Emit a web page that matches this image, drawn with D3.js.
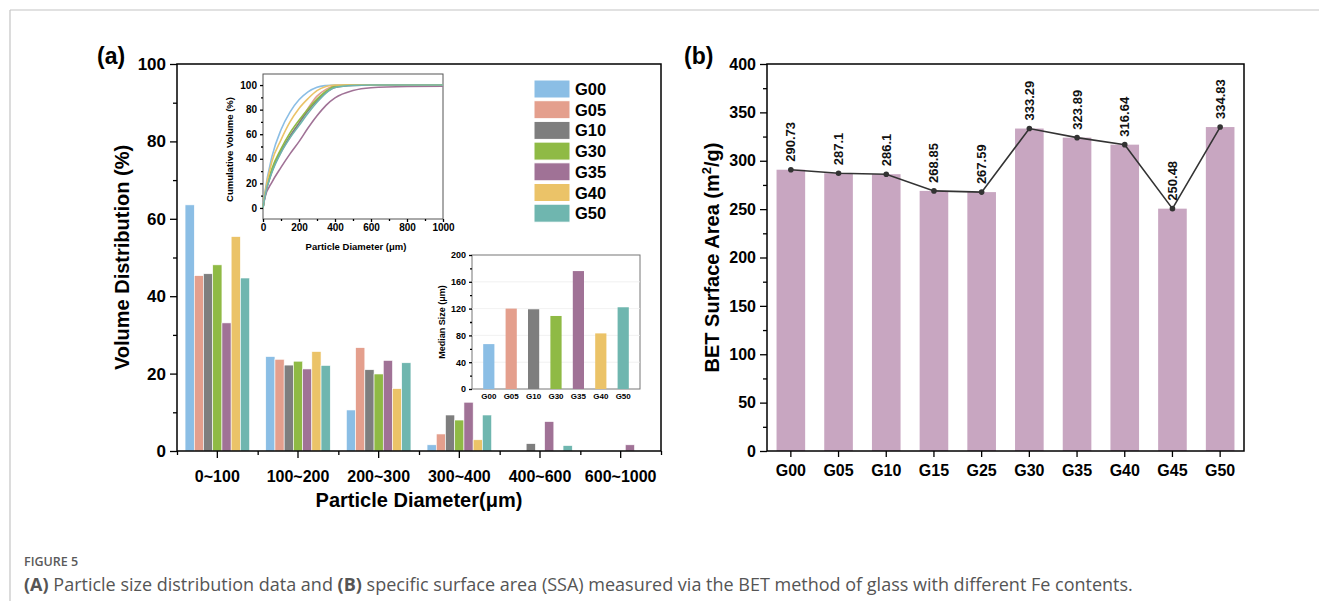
<!DOCTYPE html>
<html>
<head>
<meta charset="utf-8">
<script src="https://cdn.jsdelivr.net/npm/d3@7"></script>
<style>
body { margin: 0; background: #fff; }
svg text { font-family: "Liberation Sans", Arial, sans-serif; }
</style>
</head>
<body>
<script>
// data
var sizeBins = ["0~100", "100~200", "200~300", "300~400", "400~600", "600~1000"]
var seriesNames = ["G00", "G05", "G10", "G30", "G35", "G40", "G50"]
var seriesColors = ["#8bbee5", "#e49f8d", "#7e7e7e", "#8fba45", "#a07296", "#ebc368", "#6fb6af"]
var volG00 = [63.6, 24.4, 10.6, 1.6, 0, 0]
var volG05 = [45.3, 23.7, 26.7, 4.4, 0, 0]
var volG10 = [45.8, 22.2, 21.0, 9.3, 1.9, 0]
var volG30 = [48.1, 23.2, 19.9, 8.0, 0, 0]
var volG35 = [33.1, 21.2, 23.4, 12.6, 7.6, 1.6]
var volG40 = [55.4, 25.7, 16.1, 2.9, 0, 0]
var volG50 = [44.7, 22.1, 22.8, 9.3, 1.4, 0]
var volumes = [volG00, volG05, volG10, volG30, volG35, volG40, volG50]

// cumulative curves (inset)
var cumX = [0, 10, 50, 100, 150, 200, 250, 300, 350, 400, 500, 600, 800, 1000]
var cumG00 = [0, 12, 42, 63.6, 78, 88, 94.5, 98.3, 99.6, 100, 100, 100, 100, 100]
var cumG05 = [0, 9, 30, 45.3, 57.5, 69, 81, 91, 96.5, 99.5, 100, 100, 100, 100]
var cumG10 = [0, 9, 30, 46, 58.5, 69, 79, 87.5, 94, 98, 99.7, 100, 100, 100]
var cumG30 = [0, 10, 32, 48, 61, 71.3, 80.5, 88.5, 95, 99, 100, 100, 100, 100]
var cumG35 = [0, 8, 21, 33, 44, 54, 65, 75, 83.5, 89.5, 95.5, 97.8, 98.8, 99]
var cumG40 = [0, 11, 38, 55.4, 70, 81, 89, 95.5, 98.8, 100, 100, 100, 100, 100]
var cumG50 = [0, 9, 29, 45, 57, 67, 77, 86, 93.5, 98, 99.7, 100, 100, 100]
var cumulative = [cumG00, cumG05, cumG10, cumG30, cumG35, cumG40, cumG50]

// median size (inset)
var medianSize = [67, 120, 119, 109, 176, 83, 122]

// BET
var betSamples = ["G00", "G05", "G10", "G15", "G25", "G30", "G35", "G40", "G45", "G50"]
var betValues = [290.73, 287.1, 286.1, 268.85, 267.59, 333.29, 323.89, 316.64, 250.48, 334.83]

var svg = d3.select("body").append("svg")
  .attr("width", 1319)
  .attr("height", 601)

// page frame
svg.append("line").attr("x1", 10).attr("y1", 10).attr("x2", 1319).attr("y2", 10)
  .style("stroke", "#c4c4c4").style("stroke-width", 1.2)
svg.append("line").attr("x1", 10).attr("y1", 10).attr("x2", 10).attr("y2", 601)
  .style("stroke", "#c4c4c4").style("stroke-width", 1.2)

function styleAxis(g, fs) {
  g.selectAll(".domain").remove()
  g.selectAll("line").style("stroke", "#000").style("stroke-width", 1.3)
  g.selectAll("text").style("font-size", fs + "px").style("font-weight", "bold").style("fill", "#000")
}

// ---------- panel (a) ----------
var aL = 177, aR = 661, aT = 64, aB = 451
var xA = d3.scaleBand().domain(sizeBins).range([aL, aR]).paddingInner(0.2).paddingOuter(0.1)
var xSub = d3.scaleBand().domain(seriesNames).range([0, xA.bandwidth()])
var yA = d3.scaleLinear().domain([0, 100]).range([aB, aT])
var binEdge = d3.scaleLinear().domain([0, sizeBins.length]).range([aL, aR])

var groups = svg.append("g").selectAll("g")
  .data(volumes)
  .enter()
  .append("g")
  .style("fill", function(d, i) { return seriesColors[i] })
groups.selectAll("rect")
  .data(function(d, i) { return d.map(function(v, j) { return { v: v, bin: sizeBins[j], s: seriesNames[i] } }) })
  .enter()
  .filter(function(d) { return d.v > 0 })
  .append("rect")
  .attr("x", function(d) { return xA(d.bin) + xSub(d.s) })
  .attr("width", xSub.bandwidth())
  .attr("y", function(d) { return yA(d.v) })
  .attr("height", function(d) { return aB - yA(d.v) })
  .style("stroke", "#fff").style("stroke-width", 0.6)

var gyA = svg.append("g").attr("transform", "translate(" + aL + ",0)")
  .call(d3.axisLeft(yA).tickValues([0, 20, 40, 60, 80, 100]).tickSize(7).tickPadding(4))
styleAxis(gyA, 17)
var gyAm = svg.append("g").attr("transform", "translate(" + aL + ",0)")
  .call(d3.axisLeft(yA).tickValues([10, 30, 50, 70, 90]).tickSize(4).tickFormat(""))
styleAxis(gyAm, 17)
var gxA = svg.append("g").attr("transform", "translate(0," + aB + ")")
  .call(d3.axisBottom(xA).tickSize(7).tickPadding(13))
styleAxis(gxA, 16)
var gxAm = svg.append("g").attr("transform", "translate(0," + aB + ")")
  .call(d3.axisBottom(binEdge).ticks(6).tickSize(4).tickFormat(""))
styleAxis(gxAm, 16)
svg.append("rect").attr("x", aL).attr("y", aT).attr("width", aR - aL).attr("height", aB - aT)
  .style("fill", "none").style("stroke", "#000").style("stroke-width", 1.5)

svg.append("text").attr("x", 97).attr("y", 64).text("(a)")
  .style("font-size", "23px").style("font-weight", "bold")
svg.append("text").attr("transform", "translate(129," + ((aT + aB) / 2) + ") rotate(-90)")
  .attr("text-anchor", "middle").text("Volume Distribution (%)")
  .style("font-size", "20px").style("font-weight", "bold")
svg.append("text").attr("x", (aL + aR) / 2).attr("y", 507).attr("text-anchor", "middle")
  .text("Particle Diameter(\u03bcm)")
  .style("font-size", "20px").style("font-weight", "bold")

// legend
var legend = svg.append("g").selectAll("g")
  .data(seriesNames)
  .enter()
  .append("g")
  .attr("transform", function(d, i) { return "translate(534," + (80 + i * 20.7) + ")" })
legend.append("rect").attr("width", 36).attr("height", 18)
  .style("fill", function(d, i) { return seriesColors[i] }).style("stroke", "#fff")
legend.append("text").attr("x", 41).attr("y", 15).text(function(d) { return d })
  .style("font-size", "16.5px").style("font-weight", "bold")

// inset: cumulative volume
var iL = 263, iR = 443, iT = 74, iB = 219
var xI = d3.scaleLinear().domain([0, 1000]).range([iL, iR])
var yI = d3.scaleLinear().domain([-9, 109]).range([iB, iT])
svg.append("rect").attr("x", iL).attr("y", iT).attr("width", iR - iL).attr("height", iB - iT)
  .style("fill", "#fff").style("stroke", "#555").style("stroke-width", 1)
var cumLine = d3.line()
  .x(function(d, i) { return xI(cumX[i]) })
  .y(function(d) { return yI(d) })
  .curve(d3.curveMonotoneX)
svg.append("g").selectAll("path")
  .data(cumulative)
  .enter()
  .append("path")
  .attr("d", cumLine)
  .style("fill", "none")
  .style("stroke", function(d, i) { return seriesColors[i] })
  .style("stroke-width", 1.6)
var gyI = svg.append("g").attr("transform", "translate(" + iL + ",0)")
  .call(d3.axisLeft(yI).tickValues([0, 20, 40, 60, 80, 100]).tickSize(3).tickPadding(3))
styleAxis(gyI, 10)
var gyIm = svg.append("g").attr("transform", "translate(" + iL + ",0)")
  .call(d3.axisLeft(yI).tickValues([10, 30, 50, 70, 90]).tickSize(2).tickFormat(""))
styleAxis(gyIm, 9)
var gxI = svg.append("g").attr("transform", "translate(0," + iB + ")")
  .call(d3.axisBottom(xI).tickValues([0, 200, 400, 600, 800, 1000]).tickFormat(d3.format("d")).tickSize(3).tickPadding(2))
styleAxis(gxI, 10)
var gxIm = svg.append("g").attr("transform", "translate(0," + iB + ")")
  .call(d3.axisBottom(xI).tickValues([100, 300, 500, 700, 900]).tickSize(2).tickFormat(""))
styleAxis(gxIm, 9)
svg.append("text").attr("transform", "translate(233," + ((iT + iB) / 2 + 3) + ") rotate(-90)")
  .attr("text-anchor", "middle").text("Cumulative Volume (%)")
  .style("font-size", "9.5px").style("font-weight", "bold")
svg.append("text").attr("x", (iL + iR) / 2 + 3).attr("y", 250).attr("text-anchor", "middle")
  .text("Particle Diameter (\u03bcm)")
  .style("font-size", "9.5px").style("font-weight", "bold")

// inset: median size
var mL = 472, mR = 640, mT = 255, mB = 389
var xM = d3.scaleBand().domain(seriesNames).range([mL, mR]).padding(0.5)
var yM = d3.scaleLinear().domain([0, 200]).range([mB, mT])
svg.append("rect").attr("x", mL).attr("y", mT).attr("width", mR - mL).attr("height", mB - mT)
  .style("fill", "#fff").style("stroke", "#777").style("stroke-width", 1)
svg.append("g").selectAll("line")
  .data([40, 80, 120, 160])
  .enter()
  .append("line")
  .attr("x1", mL).attr("x2", mR)
  .attr("y1", function(d) { return yM(d) }).attr("y2", function(d) { return yM(d) })
  .style("stroke", "#eee").style("stroke-width", 0.8)
svg.append("g").selectAll("rect")
  .data(medianSize)
  .enter()
  .append("rect")
  .attr("x", function(d, i) { return xM(seriesNames[i]) })
  .attr("width", xM.bandwidth())
  .attr("y", function(d) { return yM(d) })
  .attr("height", function(d) { return mB - yM(d) })
  .style("fill", function(d, i) { return seriesColors[i] })
var gyM = svg.append("g").attr("transform", "translate(" + mL + ",0)")
  .call(d3.axisLeft(yM).tickValues([0, 40, 80, 120, 160, 200]).tickSize(3).tickPadding(3))
styleAxis(gyM, 9)
var gyMm = svg.append("g").attr("transform", "translate(" + mL + ",0)")
  .call(d3.axisLeft(yM).tickValues([20, 60, 100, 140, 180]).tickSize(2).tickFormat(""))
styleAxis(gyMm, 8)
var gxM = svg.append("g").attr("transform", "translate(0," + mB + ")")
  .call(d3.axisBottom(xM).tickSize(0).tickPadding(4))
styleAxis(gxM, 8)
svg.append("text").attr("transform", "translate(445," + ((mT + mB) / 2) + ") rotate(-90)")
  .attr("text-anchor", "middle").text("Median Size (\u03bcm)")
  .style("font-size", "9px").style("font-weight", "bold")

// ---------- panel (b) ----------
var bL = 767, bR = 1244, bT = 64, bB = 451
var xB = d3.scaleBand().domain(betSamples).range([bL, bR]).paddingInner(0.4).paddingOuter(0.2)
var yB = d3.scaleLinear().domain([0, 400]).range([bB, bT])

svg.append("g").selectAll("rect")
  .data(betValues)
  .enter()
  .append("rect")
  .attr("x", function(d, i) { return xB(betSamples[i]) })
  .attr("width", xB.bandwidth())
  .attr("y", function(d) { return yB(d) })
  .attr("height", function(d) { return bB - yB(d) })
  .style("fill", "#c8a6c1")

var betLine = d3.line()
  .x(function(d, i) { return xB(betSamples[i]) + xB.bandwidth() / 2 })
  .y(function(d) { return yB(d) })
svg.append("path").datum(betValues).attr("d", betLine)
  .style("fill", "none").style("stroke", "#333").style("stroke-width", 1.6)
svg.append("g").selectAll("circle")
  .data(betValues)
  .enter()
  .append("circle")
  .attr("cx", function(d, i) { return xB(betSamples[i]) + xB.bandwidth() / 2 })
  .attr("cy", function(d) { return yB(d) })
  .attr("r", 2.8)
  .style("fill", "#333")
svg.append("g").selectAll("text")
  .data(betValues)
  .enter()
  .append("text")
  .attr("transform", function(d, i) {
    return "translate(" + (xB(betSamples[i]) + xB.bandwidth() / 2 + 4.5) + "," + (yB(d) - 8) + ") rotate(-90)"
  })
  .text(function(d) { return d })
  .style("font-size", "13px").style("font-weight", "600").style("fill", "#111")

var gyB = svg.append("g").attr("transform", "translate(" + bL + ",0)")
  .call(d3.axisLeft(yB).tickValues(d3.range(0, 401, 50)).tickSize(7).tickPadding(4))
styleAxis(gyB, 16)
var gyBm = svg.append("g").attr("transform", "translate(" + bL + ",0)")
  .call(d3.axisLeft(yB).tickValues(d3.range(25, 400, 50)).tickSize(4).tickFormat(""))
styleAxis(gyBm, 16)
var gxB = svg.append("g").attr("transform", "translate(0," + bB + ")")
  .call(d3.axisBottom(xB).tickSize(6).tickPadding(8))
styleAxis(gxB, 16)
svg.append("rect").attr("x", bL).attr("y", bT).attr("width", bR - bL).attr("height", bB - bT)
  .style("fill", "none").style("stroke", "#000").style("stroke-width", 1.5)

svg.append("text").attr("x", 684).attr("y", 64).text("(b)")
  .style("font-size", "23px").style("font-weight", "bold")
var yTitle = svg.append("text").attr("transform", "translate(719," + ((bT + bB) / 2) + ") rotate(-90)")
  .attr("text-anchor", "middle")
  .style("font-size", "20px").style("font-weight", "bold")
yTitle.append("tspan").text("BET Surface Area (m")
yTitle.append("tspan").attr("dy", -8).style("font-size", "13px").text("2")
yTitle.append("tspan").attr("dy", 8).text("/g)")

// caption
svg.append("text").attr("x", 24).attr("y", 566).text("FIGURE 5")
  .style("font-family", "'Open Sans', sans-serif").style("font-size", "12.5px")
  .style("font-weight", "600").style("fill", "#5a5a5a")
var cap = svg.append("text").attr("x", 24).attr("y", 591)
  .style("font-family", "'Open Sans', sans-serif").style("font-size", "18px").style("fill", "#555")
cap.append("tspan").style("font-weight", "bold").text("(A)")
cap.append("tspan").text(" Particle size distribution data and ")
cap.append("tspan").style("font-weight", "bold").text("(B)")
cap.append("tspan").text(" specific surface area (SSA) measured via the BET method of glass with different Fe contents.")
</script>
</body>
</html>
